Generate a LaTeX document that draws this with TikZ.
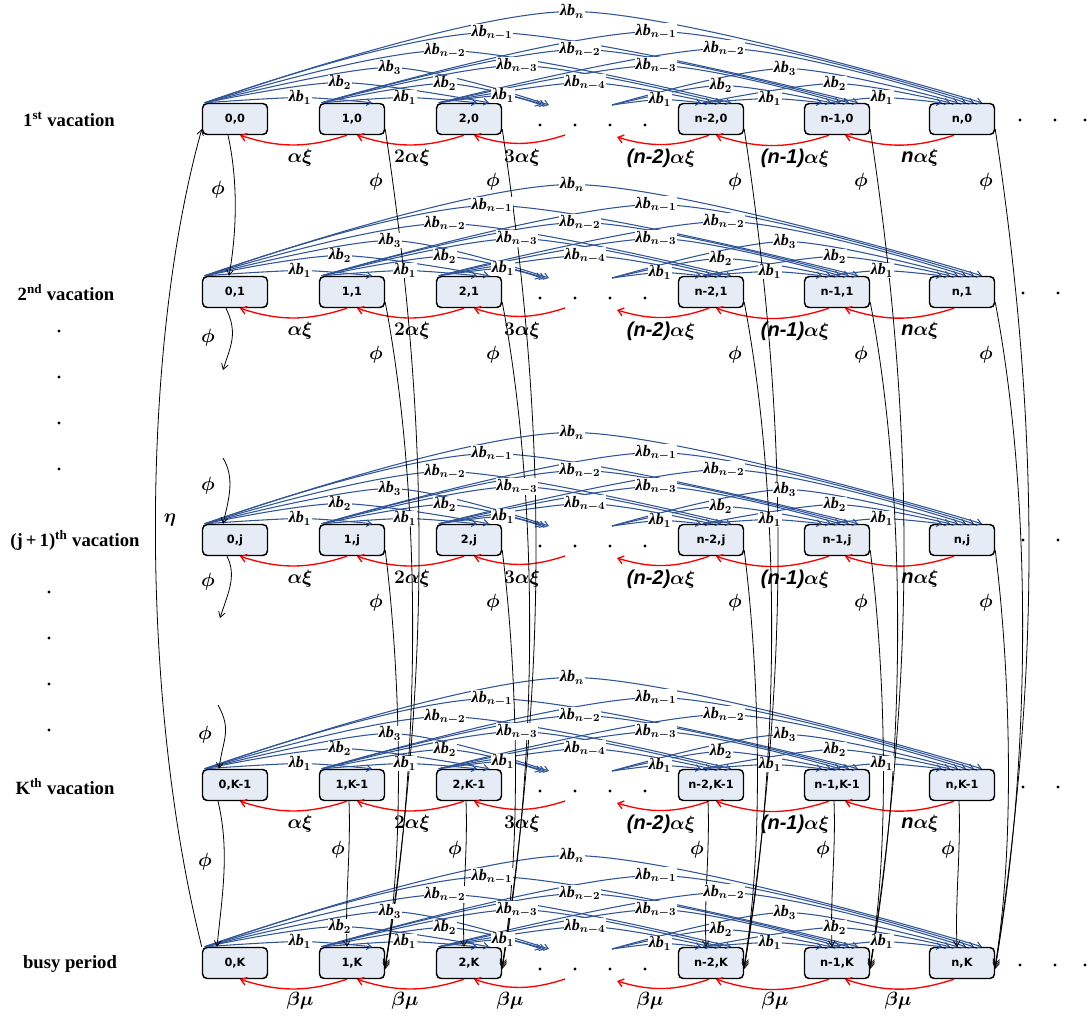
\documentclass[tikz,border=0pt]{standalone}
\usepackage{fontspec}
\usepackage{amsmath,bm}
\usetikzlibrary{arrows.meta,calc}
\newfontfamily\myNodeFont{DejaVu Sans}
\newfontfamily\mySerifFont{Liberation Serif}
\newfontfamily\mySansFont{Liberation Sans}
\definecolor{arcblue}{RGB}{47,85,151}
\definecolor{nodefill}{RGB}{229,236,245}
\newcommand{\myLamB}[1]{{\mySerifFont\bfseries\itshape λb}$_{\bm{#1}}$}
\newcommand{\mySansBI}[1]{{\mySansFont\bfseries\itshape #1}}
\newcommand{\myAX}{$\bm{\alpha}\bm{\xi}$}
\def\arclist{0/1/20/300/-6/1,0/2/20/340/-21/2,0/3/4/390/-36/3,0/4/20/445/-53/n-2,0/5/21/492/-71/n-1,0/6/20/572/-92/n,1/2/8/405/-6/1,1/3/0/445/-20/2,1/4/10/517/-38/n-3,1/5/12/580/-54/n-2,1/6/12/656/-72/n-1,2/3/-4/503/-8/1,2/4/0/585/-21/n-4,2/5/3/656/-38/n-3,2/6/4/724/-55/n-2,3/4/-10/660/-4/1,3/5/-6/721/-18/2,3/6/-4/785/-35/3,4/5/-15/770/-5/1,4/6/-12/835/-20/2,5/6/-20/882/-6/1}
\tikzset{
 stnode/.style={draw=black, line width=1.1pt, rounded corners=3.5pt, fill=nodefill, minimum width=48.75pt, minimum height=23.25pt, inner sep=1pt, font=\myNodeFont\bfseries\fontsize{8.5}{9}\selectfont},
 barc/.style={draw=arcblue, line width=0.8pt, -{Straight Barb[length=3.5pt,width=5pt]}},
 rarc/.style={draw=red, line width=1pt, -{Straight Barb[length=4pt,width=6pt]}},
 karc/.style={draw=black, line width=0.6pt, -{Straight Barb[length=4pt,width=5pt]}},
 lbl/.style={fill=white, inner sep=0.5pt, font=\fontsize{12}{13}\selectfont},
 rlbl/.style={inner sep=1pt, font=\fontsize{15}{17}\selectfont},
 phil/.style={inner sep=1pt, font=\fontsize{14}{16}\selectfont},
 rowlbl/.style={inner sep=1pt, font=\mySerifFont\bfseries\fontsize{14}{16}\selectfont},
 dotm/.style={circle, fill=black, inner sep=0pt, minimum size=2.4pt},
}
\begin{document}
\begin{tikzpicture}[x=0.75pt,y=-0.75pt]
\useasboundingbox (0,0) rectangle (1090,1018);

% nodes
\foreach \r/\y/\rl in {0/119/0,1/292/1,2/540/j,3/785/K-1,4/963/K}{
  \foreach \c/\x/\cl in {0/235/0,1/352/1,2/469/2,4/711/n-2,5/837/n-1,6/962/n}{
    \node[stnode] (N\c-\r) at (\x,\y) {\cl,\rl};
  }
}

% row labels
\node[rowlbl] (L0) at (69,119) {1\textsuperscript{st} vacation};
\node[rowlbl] (L1) at (66,293) {2\textsuperscript{nd} vacation};
\node[rowlbl] (L2) at (75,540) {(j\,+\,1)\textsuperscript{th} vacation};
\node[rowlbl] (L3) at (65,787) {K\textsuperscript{th} vacation};
\node[rowlbl] (L4) at (70,964) {busy period};
\foreach \x/\y [count=\i] in {59/331,59/377,59/423,59/469,49/592,49/638,49/684,49/730}
  \node[dotm] (LD\i) at (\x,\y) {};

% row dots
\foreach \r/\y in {0/125,1/298,2/546,3/791,4/969}{
  \foreach \x [count=\i] in {540,575,610,645}
    \node[dotm] (MD\r-\i) at (\x,\y) {};
}
\foreach \r/\y in {0/120,4/965}{
  \foreach \x [count=\i] in {1020,1055,1085}
    \node[dotm] (RD\r-\i) at (\x,\y) {};
}
\foreach \r/\y in {1/293,2/540,3/787}{
  \foreach \x [count=\i] in {1023,1058}
    \node[dotm] (RD\r-\i) at (\x,\y) {};
}

% blue arcs
\foreach \r/\y in {0/119,1/292,2/540,3/785,4/963}{
  \coordinate (S0) at ($(N0-\r.north west)+(3,0)$);
  \coordinate (S1) at ($(N1-\r.north west)+(3,0)$);
  \coordinate (S2) at ($(N2-\r.north west)+(3,0)$);
  \coordinate (S3) at (612,\y-14);
  \coordinate (S4) at ($(N4-\r.north)+(-8,0)$);
  \coordinate (S5) at ($(N5-\r.north)+(-8,0)$);
  \coordinate (B1) at (N1-\r.north);
  \coordinate (B2) at (N2-\r.north);
  \coordinate (B3) at (545,\y-14);
  \coordinate (B4) at (N4-\r.north);
  \coordinate (B5) at (N5-\r.north);
  \coordinate (B6) at (N6-\r.north);
  \foreach \s/\t/\o/\lx/\ly/\sub in \arclist{
    \coordinate (TT) at ($(B\t)+(\o,0)$);
    \coordinate (MM) at (\lx,\y-15.5+\ly);
    \draw[barc] plot[smooth] coordinates {(S\s) (MM) (TT)};
  }
}

% red arcs
\foreach \r/\y in {0/119,1/292,2/540,3/785,4/963}{
  \coordinate (DR) at (565,\y+16);
  \coordinate (DL) at (617,\y+18);
  \draw[rarc] ($(N1-\r.south)+(-5,0)$) to[bend left=18] ($(N0-\r.south)+(5,0)$);
  \draw[rarc] ($(N2-\r.south)+(-5,0)$) to[bend left=18] ($(N1-\r.south)+(5,0)$);
  \draw[rarc] (DR) to[bend left=18] ($(N2-\r.south)+(5,0)$);
  \draw[rarc] ($(N4-\r.south)+(-2,0)$) to[bend left=18] (DL);
  \draw[rarc] ($(N5-\r.south)+(-8,0)$) to[bend left=18] ($(N4-\r.south)+(5,0)$);
  \draw[rarc] ($(N6-\r.south)+(-8,0)$) to[bend left=18] ($(N5-\r.south)+(8,0)$);
}
% red labels
\foreach \r/\y in {0/158,1/331,2/579,3/824}{
  \node[rlbl] (RA\r-1) at (300,\y) {\myAX};
  \node[rlbl] (RA\r-2) at (412,\y) {$\bm{2}$\myAX};
  \node[rlbl] (RA\r-3) at (522,\y) {$\bm{3}$\myAX};
  \node[rlbl] (RA\r-4) at (661,\y) {\mySansBI{(n-2)}\myAX};
  \node[rlbl] (RA\r-5) at (795,\y) {\mySansBI{(n-1)}\myAX};
  \node[rlbl] (RA\r-6) at (920,\y) {\mySansBI{n}\myAX};
}
\foreach \x [count=\i] in {300,405,510,650,775,898}
  \node[rlbl] (BM\i) at (\x,1001) {$\bm{\beta}\bm{\mu}$};

% phi lines column 0
\coordinate (E1) at (223,370);
\coordinate (E2) at (223,458);
\coordinate (E3) at (220,618);
\coordinate (E4) at (218,705);
\draw[karc] ($(N0-0.south)+(-7,0)$) .. controls +(10,45) and +(8,-45) .. ($(N0-1.north)+(-6,0)$);
\draw[karc] ($(N0-1.south)+(-9,0)$) .. controls +(12,25) and +(8,-25) .. (E1);
\draw[karc] (E2) .. controls +(12,20) and +(6,-25) .. ($(N0-2.north)+(-12,0)$);
\draw[karc] ($(N0-2.south)+(-8,0)$) .. controls +(10,20) and +(8,-25) .. (E3);
\draw[karc] (E4) .. controls +(14,25) and +(4,-30) .. ($(N0-3.north)+(-16,0)$);
\draw[karc] ($(N0-3.south)+(-17,0)$) .. controls +(12,50) and +(5,-50) .. ($(N0-4.north)+(-18,0)$);
% eta
\draw[karc] (N0-4.north west) .. controls (140,700) and (140,350) .. ($(N0-0.south west)+(0,-6)$);
\node[rlbl] (ETA) at (170,520) {$\bm{\eta}$};
\foreach \x/\y [count=\i] in {218/190,208/338,208/486,208/582,205/735,205/862}
  \node[phil] (P0-\i) at (\x,\y) {$\bm{\phi}$};

% phi lines to busy period
\foreach \c in {1,2,4,5,6}{
  \draw[karc] ($(N\c-0.south east)+(0,-6)$) .. controls +(45,300) and +(45,-300) .. ($(N\c-4.east)+(0,6)$);
  \draw[karc] ($(N\c-1.south east)+(0,-6)$) .. controls +(38,200) and +(35,-200) .. ($(N\c-4.east)+(0,4)$);
  \draw[karc] ($(N\c-2.south east)+(0,-6)$) .. controls +(15,120) and +(20,-120) .. ($(N\c-4.east)+(0,2)$);
  \draw[karc] ($(N\c-3.south)+(-3,0)$) .. controls +(2,50) and +(-2,-50) .. ($(N\c-4.north)+(-5,0)$);
}
\foreach \r/\y in {0/182,1/355,2/603}{
  \foreach \c/\x in {1/376,2/493,4/735,5/861,6/986}
    \node[phil] (P\c-\r) at (\x,\y) {$\bm{\phi}$};
}
\foreach \c/\x in {1/338,2/455,4/697,5/823,6/948}
  \node[phil] (P\c-3) at (\x,850) {$\bm{\phi}$};

% blue arc labels on top
\foreach \r/\y in {0/103.5,1/276.5,2/524.5,3/769.5,4/947.5}{
  \foreach \s/\t/\o/\lx/\ly/\sub [count=\i] in \arclist{
    \node[lbl] (LB\r-\i) at (\lx,\y+\ly) {\myLamB{\sub}};
  }
}
\end{tikzpicture}
\end{document}
